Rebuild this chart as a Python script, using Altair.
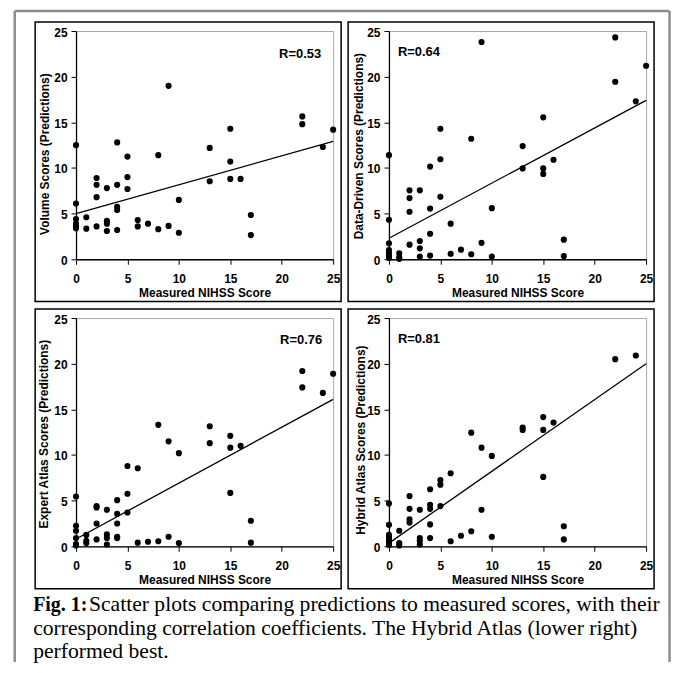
import altair as alt
import pandas as pd

# ---------------- data ----------------
measured_volume = [0, 0, 0, 0, 0, 0, 1, 1, 2, 2, 2, 2, 3, 3, 3, 3, 4, 4, 4, 4, 4,
                   5, 5, 5, 6, 6, 7, 8, 8, 9, 9, 10, 10, 13, 13, 15, 15, 15, 16,
                   17, 17, 22, 22, 24, 25]
pred_volume = [12.5, 6.1, 4.4, 3.9, 3.6, 3.4, 4.6, 3.35, 8.9, 8.15, 6.8, 3.6,
               7.8, 4.2, 3.9, 3.1, 12.8, 8.15, 5.75, 5.4, 3.2, 11.25, 9.0, 7.7,
               4.3, 3.6, 3.9, 11.4, 3.3, 19.0, 3.65, 6.5, 2.9, 12.2, 8.55,
               14.3, 10.7, 8.8, 8.8, 4.85, 2.65, 15.65, 14.8, 12.3, 14.2]

measured_data = [0, 0, 0, 0, 0, 0, 0, 1, 1, 1, 2, 2, 2, 2, 3, 3, 3, 3, 4, 4, 4, 4,
                 5, 5, 5, 6, 6, 7, 8, 8, 9, 9, 10, 10, 13, 13, 15, 15, 15, 16,
                 17, 17, 22, 22, 24, 25]
pred_data = [11.4, 4.33, 1.75, 1.0, 0.65, 0.35, 0.15, 0.65, 0.25, 0.05,
             7.55, 6.7, 5.2, 1.6, 7.55, 2.0, 1.2, 0.3, 10.15, 5.55, 2.8, 0.4,
             14.3, 10.95, 6.85, 3.9, 0.6, 1.05, 13.2, 0.55, 23.8, 1.8, 5.6, 0.3,
             12.4, 9.95, 15.55, 9.95, 9.35, 10.9, 2.15, 0.35, 24.3, 19.45,
             17.3, 21.2]

measured_expert = [0, 0, 0, 0, 0, 0, 1, 1, 1, 2, 2, 2, 2, 3, 3, 3, 3, 4, 4, 4, 4, 4,
                   5, 5, 5, 6, 6, 7, 8, 8, 9, 9, 10, 10, 13, 13, 15, 15, 15, 16,
                   17, 17, 22, 22, 24, 25]
pred_expert = [5.45, 2.25, 1.7, 0.9, 0.25, 0.1, 1.25, 0.6, 0.35, 4.4, 4.25, 2.5,
               0.75, 4.0, 1.3, 0.9, 0.2, 5.05, 3.55, 2.5, 1.05, 0.9, 8.8, 5.75,
               3.7, 8.55, 0.4, 0.5, 13.3, 0.55, 11.5, 1.05, 10.2, 0.35, 13.15,
               11.3, 12.1, 10.8, 5.85, 11.0, 2.8, 0.4, 19.2, 17.4, 16.8, 18.9]

measured_hybrid = [0, 0, 0, 0, 0, 0, 0, 1, 1, 1, 2, 2, 2, 2, 3, 3, 3, 3, 4, 4, 4, 4, 4,
                   5, 5, 5, 6, 6, 7, 8, 8, 9, 9, 10, 10, 13, 13, 15, 15, 15, 16,
                   17, 17, 22, 24]
pred_hybrid = [4.7, 2.35, 1.25, 1.0, 0.7, 0.45, 0.15, 1.7, 0.35, 0.1, 5.5, 4.1,
               2.95, 2.6, 4.0, 0.9, 0.6, 0.2, 6.25, 4.55, 4.1, 2.4, 0.9, 7.25,
               6.75, 4.4, 8.0, 0.55, 1.15, 12.45, 1.65, 10.8, 4.0, 9.9, 1.05,
               13.0, 12.75, 14.15, 12.75, 7.6, 13.55, 2.2, 0.75, 20.5, 20.9]

# fitted trend lines: predicted value at measured = 0 and 25
trend_x = [0, 25]
trend_volume = [5.0, 12.9]
trend_data = [2.3, 17.4]
trend_expert = [0.8, 16.1]
trend_hybrid = [0.35, 20.0]

r_labels = ["R=0.53", "R=0.64", "R=0.76", "R=0.81"]
y_titles = ["Volume Scores (Predictions)", "Data-Driven Scores (Predictions)",
            "Expert Atlas Scores (Predictions)", "Hybrid Atlas Scores (Predictions)"]
x_title = "Measured NIHSS Score"
tick_values = [0, 5, 10, 15, 20, 25]

caption_bold = "Fig. 1:"
caption_lines = [
    "Scatter plots comparing predictions to measured scores, with their",
    "corresponding correlation coefficients. The Hybrid Atlas (lower right)",
    "performed best.",
]

# ---------------- styling ----------------
W, H = 258, 229
SANS = "Liberation Sans"
SERIF = "Liberation Serif"
CAP_SIZE = 21.7

# per-panel placement of the y title and the R label
panel_styles = [
    dict(titleX=-32, titleY=123, rx=246, ry=27, ralign="right"),
    dict(titleX=-30.5, titleY=115, rx=9, ry=25, ralign="left"),
    dict(titleX=-33, titleY=116, rx=247, ry=26.5, ralign="right"),
    dict(titleX=-29, titleY=122, rx=9, ry=25.5, ralign="left"),
]


def one_row(value):
    return pd.DataFrame({"v": [value]})


def make_panel(xs, ys, trend_y, r_label, y_title, st, extra=()):
    scale = alt.Scale(domain=[0, 25], nice=False, zero=True)
    x_enc = alt.X(
        "x:Q", scale=scale,
        axis=alt.Axis(values=tick_values, title=x_title, titleY=37,
                      titleBaseline="alphabetic", labelPadding=9,
                      labelFlush=False),
    )
    y_enc = alt.Y(
        "y:Q", scale=scale,
        axis=alt.Axis(values=tick_values, title=y_title, titleX=st["titleX"],
                      titleY=st["titleY"], titleAngle=270,
                      titleBaseline="middle", labelPadding=4, labelOffset=1,
                      labelFlush=False),
    )
    pts = alt.Chart(pd.DataFrame({"x": xs, "y": ys})).mark_circle(
        size=38, color="black", opacity=1
    ).encode(x=x_enc, y=y_enc)
    line = alt.Chart(pd.DataFrame({"x": trend_x, "y": trend_y})).mark_line(
        color="black", strokeWidth=1.3
    ).encode(x=x_enc, y=y_enc)
    rtxt = alt.Chart(one_row(r_label)).mark_text(
        font=SANS, fontSize=13, fontWeight="bold", color="black",
        align=st["ralign"], baseline="alphabetic"
    ).encode(x=alt.value(st["rx"]), y=alt.value(st["ry"]), text="v:N")
    border = alt.Chart(one_row(0)).mark_rect(
        fill="white", fillOpacity=0, stroke="black", strokeWidth=1.5
    ).encode(x=alt.value(-41), x2=alt.value(266), y=alt.value(-9),
             y2=alt.value(271.5))
    layers = [border] + list(extra) + [line, pts, rtxt]
    return alt.layer(*layers).properties(width=W, height=H)


# outer grey frame (left, top and right edges), drawn from the top-left panel
FRAME = dict(color="#8c8c8c", strokeWidth=2.5)
frame_left = alt.Chart(one_row(0)).mark_rule(**FRAME).encode(
    x=alt.value(-61.5), y=alt.value(-20), y2=alt.value(633))
frame_right = alt.Chart(one_row(0)).mark_rule(**FRAME).encode(
    x=alt.value(595.5), y=alt.value(-20), y2=alt.value(633))
frame_top = alt.Chart(one_row(0)).mark_rule(**FRAME).encode(
    x=alt.value(-61.5), x2=alt.value(595.5), y=alt.value(-20))

# caption (drawn from the bottom-left panel)
cap_bold = alt.Chart(one_row(caption_bold)).mark_text(
    font=SERIF, fontSize=20, fontWeight="bold", color="black",
    align="left", baseline="alphabetic"
).encode(x=alt.value(-43), y=alt.value(293.75), text="v:N")
cap1 = alt.Chart(one_row(caption_lines[0])).mark_text(
    font=SERIF, fontSize=CAP_SIZE, color="black", align="left", baseline="alphabetic"
).encode(x=alt.value(13), y=alt.value(293.75), text="v:N")
cap2 = alt.Chart(one_row(caption_lines[1])).mark_text(
    font=SERIF, fontSize=CAP_SIZE, color="black", align="left", baseline="alphabetic"
).encode(x=alt.value(-43), y=alt.value(317.75), text="v:N")
cap3 = alt.Chart(one_row(caption_lines[2])).mark_text(
    font=SERIF, fontSize=CAP_SIZE, color="black", align="left", baseline="alphabetic"
).encode(x=alt.value(-43), y=alt.value(341.5), text="v:N")

p1 = make_panel(measured_volume, pred_volume, trend_volume, r_labels[0], y_titles[0],
                panel_styles[0], extra=[frame_left, frame_right, frame_top])
p2 = make_panel(measured_data, pred_data, trend_data, r_labels[1], y_titles[1],
                panel_styles[1])
p3 = make_panel(measured_expert, pred_expert, trend_expert, r_labels[2], y_titles[2],
                panel_styles[2], extra=[cap_bold, cap1, cap2, cap3])
p4 = make_panel(measured_hybrid, pred_hybrid, trend_hybrid, r_labels[3], y_titles[3],
                panel_styles[3])

chart = alt.concat(
    p1, p2, p3, p4, columns=2, spacing={"row": 59, "column": 56}, bounds="flush"
).properties(
    padding={"left": 4.25, "top": 0, "right": 0, "bottom": 0},
    background="white",
).configure_view(
    stroke="#a8a8a8", strokeWidth=1
).configure_axis(
    grid=False,
    domainColor="black", domainWidth=1.3,
    tickColor="black", tickSize=5, tickWidth=1,
    labelFont=SANS, labelFontSize=12, labelFontWeight="bold", labelColor="black",
    titleFont=SANS, titleFontSize=12, titleFontWeight="bold", titleColor="black",
)

chart.save("out.html", embed_options={"renderer": "svg", "actions": False})
